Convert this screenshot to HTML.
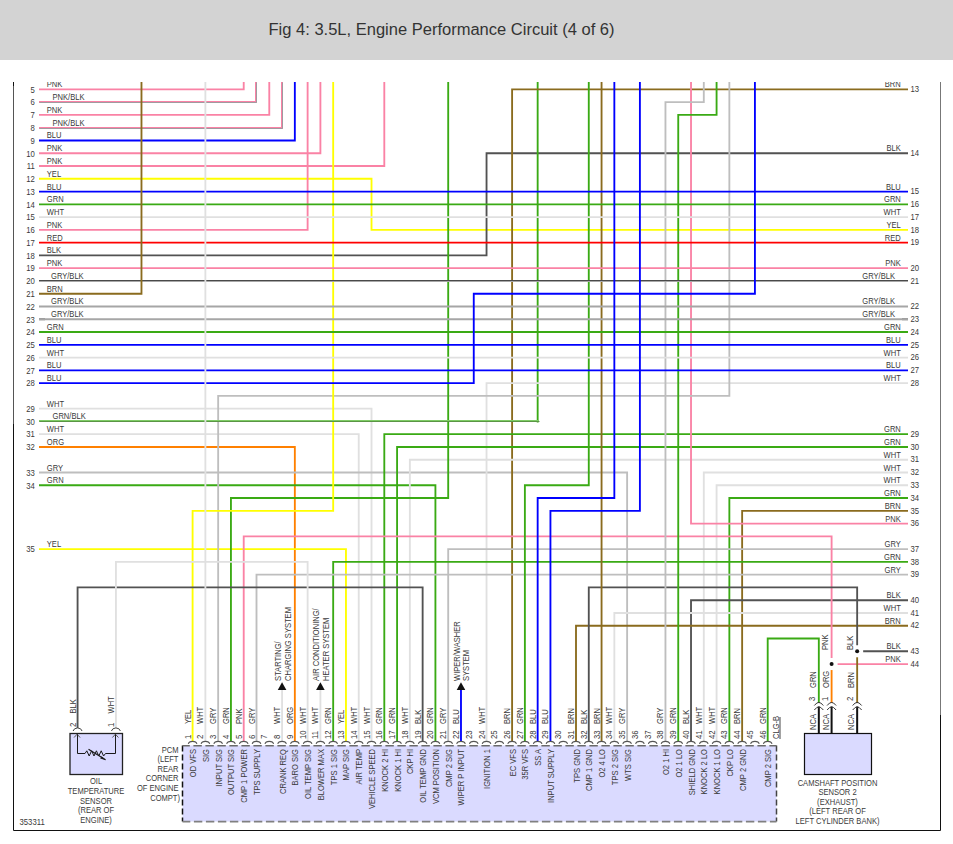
<!DOCTYPE html>
<html><head><meta charset="utf-8"><style>
html,body{margin:0;padding:0;background:#fff;width:953px;height:844px;overflow:hidden}
svg{position:absolute;left:0;top:0;font-family:"Liberation Sans",sans-serif}
</style></head><body>
<svg width="953" height="844" viewBox="0 0 953 844">
<defs><clipPath id="dclip"><rect x="0" y="82" width="953" height="762"/></clipPath></defs>
<rect x="0" y="0" width="953" height="60" fill="#d3d3d3"/>
<text x="268.5" y="35" font-size="16" fill="#333" textLength="346" lengthAdjust="spacingAndGlyphs">Fig 4: 3.5L, Engine Performance Circuit (4 of 6)</text>
<path d="M13.5 82 V86" stroke="#111" stroke-width="1"/><path d="M13.5 86 V424" stroke="#555" stroke-width="1"/><path d="M13.5 424 V830.5 H940.5 V715" stroke="#111" stroke-width="1" fill="none"/><path d="M940.5 715 V82" stroke="#777" stroke-width="1"/>
<g>
<path d="M39 89.4 L243.72 89.4 L243.72 82" stroke="#fa82a5" stroke-width="1.85" fill="none" stroke-linejoin="miter" />
<path d="M39 102 L256 102 L256 82" stroke="#fa82a5" stroke-width="2" fill="none" stroke-linejoin="miter" />
<path d="M39.5 102.5 L256.5 102.5 L256.5 82.5" stroke="#a09aa0" stroke-width="1" fill="none" stroke-linejoin="miter" />
<path d="M39 114.94 L269.28 114.94 L269.28 82" stroke="#fa82a5" stroke-width="1.85" fill="none" stroke-linejoin="miter" />
<path d="M39 128 L282 128 L282 82" stroke="#fa82a5" stroke-width="2" fill="none" stroke-linejoin="miter" />
<path d="M39.5 128.5 L282.5 128.5 L282.5 82.5" stroke="#a09aa0" stroke-width="1" fill="none" stroke-linejoin="miter" />
<path d="M39 140.48 L294.84 140.48 L294.84 82" stroke="#0000ff" stroke-width="1.85" fill="none" stroke-linejoin="miter" />
<path d="M39 153.25 L320.4 153.25 L320.4 82" stroke="#fa82a5" stroke-width="1.85" fill="none" stroke-linejoin="miter" />
<path d="M39 166.02 L384.3 166.02 L384.3 82" stroke="#fa82a5" stroke-width="1.85" fill="none" stroke-linejoin="miter" />
<path d="M39 178.79 L371.52 178.79 L371.52 229.87 L908 229.87" stroke="#ffff00" stroke-width="1.85" fill="none" stroke-linejoin="miter" />
<path d="M39 229.87 L307.62 229.87 L307.62 82" stroke="#fa82a5" stroke-width="1.85" fill="none" stroke-linejoin="miter" />
<path d="M39 255.41 L486.54 255.41 L486.54 153.25 L908 153.25" stroke="#525252" stroke-width="1.85" fill="none" stroke-linejoin="miter" />
<path d="M39 319.26 L45 319.26" stroke="#525252" stroke-width="1.85" fill="none" stroke-linejoin="miter" />
<path d="M902 319.26 L908 319.26" stroke="#525252" stroke-width="1.85" fill="none" stroke-linejoin="miter" />
<path d="M39 408.65 L371.52 408.65 L371.52 741" stroke="#e0e0e0" stroke-width="1.85" fill="none" stroke-linejoin="miter" />
<path d="M537.66 422.42 L537.66 82" stroke="#3aaa14" stroke-width="1.85" fill="none" stroke-linejoin="miter" />
<path d="M39 434.19 L358.74 434.19 L358.74 741" stroke="#e0e0e0" stroke-width="1.85" fill="none" stroke-linejoin="miter" />
<path d="M39 446.96 L294.84 446.96 L294.84 741" stroke="#ff8000" stroke-width="1.85" fill="none" stroke-linejoin="miter" />
<path d="M39 472.5 L627.12 472.5 L627.12 741" stroke="#bebebe" stroke-width="1.85" fill="none" stroke-linejoin="miter" />
<path d="M39 485.27 L435.42 485.27 L435.42 741" stroke="#3aaa14" stroke-width="1.85" fill="none" stroke-linejoin="miter" />
<path d="M39 549.12 L345.96 549.12 L345.96 741" stroke="#ffff00" stroke-width="1.85" fill="none" stroke-linejoin="miter" />
<path d="M908 89.4 L512.1 89.4 L512.1 741" stroke="#8a6b1e" stroke-width="1.85" fill="none" stroke-linejoin="miter" />
<path d="M908 383.11 L486.54 383.11 L486.54 741" stroke="#e0e0e0" stroke-width="1.85" fill="none" stroke-linejoin="miter" />
<path d="M908 434.19 L384.3 434.19 L384.3 741" stroke="#3aaa14" stroke-width="1.85" fill="none" stroke-linejoin="miter" />
<path d="M908 446.96 L397.08 446.96 L397.08 741" stroke="#3aaa14" stroke-width="1.85" fill="none" stroke-linejoin="miter" />
<path d="M908 459.73 L409.86 459.73 L409.86 741" stroke="#e0e0e0" stroke-width="1.85" fill="none" stroke-linejoin="miter" />
<path d="M908 472.5 L703.8 472.5 L703.8 741" stroke="#e0e0e0" stroke-width="1.85" fill="none" stroke-linejoin="miter" />
<path d="M908 485.27 L716.58 485.27 L716.58 741" stroke="#e0e0e0" stroke-width="1.85" fill="none" stroke-linejoin="miter" />
<path d="M908 498.04 L729.36 498.04 L729.36 741" stroke="#3aaa14" stroke-width="1.85" fill="none" stroke-linejoin="miter" />
<path d="M908 510.81 L742.14 510.81 L742.14 741" stroke="#8a6b1e" stroke-width="1.85" fill="none" stroke-linejoin="miter" />
<path d="M908 523.58 L691.02 523.58 L691.02 82" stroke="#fa82a5" stroke-width="1.85" fill="none" stroke-linejoin="miter" />
<path d="M908 549.12 L448.2 549.12 L448.2 741" stroke="#bebebe" stroke-width="1.85" fill="none" stroke-linejoin="miter" />
<path d="M908 561.89 L333.18 561.89 L333.18 741" stroke="#3aaa14" stroke-width="1.85" fill="none" stroke-linejoin="miter" />
<path d="M908 574.66 L256.5 574.66 L256.5 741" stroke="#bebebe" stroke-width="1.85" fill="none" stroke-linejoin="miter" />
<path d="M908 600.2 L691.02 600.2 L691.02 741" stroke="#525252" stroke-width="1.85" fill="none" stroke-linejoin="miter" />
<path d="M908 612.97 L614.34 612.97 L614.34 741" stroke="#e0e0e0" stroke-width="1.85" fill="none" stroke-linejoin="miter" />
<path d="M908 625.74 L576.0 625.74 L576.0 741" stroke="#8a6b1e" stroke-width="1.85" fill="none" stroke-linejoin="miter" />
<path d="M908 651.28 L863.16 651.28" stroke="#525252" stroke-width="1.85" fill="none" stroke-linejoin="miter" />
<path d="M908 664.05 L837.6 664.05" stroke="#fa82a5" stroke-width="1.85" fill="none" stroke-linejoin="miter" />
<path d="M729.36 82 L729.36 395.88 L218.16 395.88 L218.16 741" stroke="#bebebe" stroke-width="1.85" fill="none" stroke-linejoin="miter" />
<path d="M448.2 82 L448.2 498.04 L230.94 498.04 L230.94 741" stroke="#3aaa14" stroke-width="1.85" fill="none" stroke-linejoin="miter" />
<path d="M333.18 82 L333.18 510.81 L192.6 510.81 L192.6 741" stroke="#ffff00" stroke-width="1.85" fill="none" stroke-linejoin="miter" />
<path d="M243.72 741 L243.72 536.35 L831.6 536.35 L831.6 658.05" stroke="#fa82a5" stroke-width="1.85" fill="none" stroke-linejoin="miter" />
<path d="M831.6 670.05 L831.6 703" stroke="#ff8000" stroke-width="1.85" fill="none" stroke-linejoin="miter" />
<path d="M422.64 741 L422.64 587.43 L77.58 587.43 L77.58 728" stroke="#525252" stroke-width="1.85" fill="none" stroke-linejoin="miter" />
<path d="M588.78 741 L588.78 587.43 L857.16 587.43 L857.16 645.28" stroke="#525252" stroke-width="1.85" fill="none" stroke-linejoin="miter" />
<path d="M857.16 657.28 L857.16 703" stroke="#8a6b1e" stroke-width="1.85" fill="none" stroke-linejoin="miter" />
<path d="M115.92 728 L115.92 561.89 L307.62 561.89 L307.62 741" stroke="#e0e0e0" stroke-width="1.85" fill="none" stroke-linejoin="miter" />
<path d="M588.78 82 L588.78 485.27 L524.88 485.27 L524.88 741" stroke="#3aaa14" stroke-width="1.85" fill="none" stroke-linejoin="miter" />
<path d="M601.56 82 L601.56 741" stroke="#8a6b1e" stroke-width="1.85" fill="none" stroke-linejoin="miter" />
<path d="M703.8 82 L703.8 102.17 L665.46 102.17 L665.46 741" stroke="#bebebe" stroke-width="1.85" fill="none" stroke-linejoin="miter" />
<path d="M716.58 82 L716.58 114.94 L678.24 114.94 L678.24 741" stroke="#3aaa14" stroke-width="1.85" fill="none" stroke-linejoin="miter" />
<path d="M767.7 741 L767.7 638.51 L818.82 638.51 L818.82 703" stroke="#3aaa14" stroke-width="1.85" fill="none" stroke-linejoin="miter" />
<path d="M282.06 690 L282.06 741" stroke="#e0e0e0" stroke-width="1.85" fill="none" stroke-linejoin="miter" />
<path d="M320.4 690 L320.4 741" stroke="#e0e0e0" stroke-width="1.85" fill="none" stroke-linejoin="miter" />
<path d="M460.98 690 L460.98 741" stroke="#0000ff" stroke-width="1.85" fill="none" stroke-linejoin="miter" />
<path d="M39 191.56 L908 191.56" stroke="#0000ff" stroke-width="1.85" fill="none" stroke-linejoin="miter" />
<path d="M39 204.33 L908 204.33" stroke="#3aaa14" stroke-width="1.85" fill="none" stroke-linejoin="miter" />
<path d="M39 217.1 L908 217.1" stroke="#e0e0e0" stroke-width="1.85" fill="none" stroke-linejoin="miter" />
<path d="M39 242.64 L908 242.64" stroke="#ff0000" stroke-width="1.85" fill="none" stroke-linejoin="miter" />
<path d="M39 268.18 L908 268.18" stroke="#fa82a5" stroke-width="1.85" fill="none" stroke-linejoin="miter" />
<path d="M39 281 L908 281" stroke="#a8a8a8" stroke-width="2" fill="none" stroke-linejoin="miter" />
<path d="M39 280.5 L908 280.5" stroke="#4a4a4a" stroke-width="1" fill="none" stroke-linejoin="miter" />
<path d="M39 306.49 L908 306.49" stroke="#a6a6a6" stroke-width="1.85" fill="none" stroke-linejoin="miter" />
<path d="M39 319.26 L908 319.26" stroke="#a6a6a6" stroke-width="1.85" fill="none" stroke-linejoin="miter" />
<path d="M39 332.03 L908 332.03" stroke="#3aaa14" stroke-width="1.85" fill="none" stroke-linejoin="miter" />
<path d="M39 344.8 L908 344.8" stroke="#0000ff" stroke-width="1.85" fill="none" stroke-linejoin="miter" />
<path d="M39 357.57 L908 357.57" stroke="#e0e0e0" stroke-width="1.85" fill="none" stroke-linejoin="miter" />
<path d="M39 370.34 L908 370.34" stroke="#0000ff" stroke-width="1.85" fill="none" stroke-linejoin="miter" />
<path d="M39 421 L539 421" stroke="#7fcc66" stroke-width="2" fill="none" stroke-linejoin="miter" />
<path d="M39.5 421.5 L539.5 421.5" stroke="#5a9545" stroke-width="1" fill="none" stroke-linejoin="miter" />
<path d="M39 293.72 L141.48 293.72 L141.48 82" stroke="#8a6b1e" stroke-width="1.85" fill="none" stroke-linejoin="miter" />
<path d="M39 383.11 L473.76 383.11 L473.76 293.72 L754.92 293.72 L754.92 82" stroke="#0000ff" stroke-width="1.85" fill="none" stroke-linejoin="miter" />
<path d="M205.38 82 L205.38 741" stroke="#e0e0e0" stroke-width="1.85" fill="none" stroke-linejoin="miter" />
<path d="M614.34 82 L614.34 498.04 L537.66 498.04 L537.66 741" stroke="#0000ff" stroke-width="1.85" fill="none" stroke-linejoin="miter" />
<path d="M639.9 82 L639.9 510.81 L550.44 510.81 L550.44 741" stroke="#0000ff" stroke-width="1.85" fill="none" stroke-linejoin="miter" />
</g>
<!-- PCM box -->
<rect x="182.5" y="745.5" width="594" height="76" fill="#dadaff"/>
<path d="M182.5 745.5 V821.5" stroke="#111" stroke-width="1.5" stroke-dasharray="6 3"/>
<path d="M776.5 745.5 V821.5" stroke="#444" stroke-width="1.5" stroke-dasharray="6 3"/>
<path d="M182.5 745.7 H776.5" stroke="#6a6a6a" stroke-width="1.6" stroke-dasharray="8.4 3.6" stroke-dashoffset="1.1"/>
<path d="M182.5 821.7 H776.5" stroke="#808080" stroke-width="1.8" stroke-dasharray="8.4 3.6" stroke-dashoffset="0.6"/>
<path d="M188.29999999999998 743.8 C189.1 740.5 196.1 740.5 196.9 743.8" stroke="#555" stroke-width="1.1" fill="none"/>
<path d="M201.07999999999998 743.8 C201.88 740.5 208.88 740.5 209.68 743.8" stroke="#555" stroke-width="1.1" fill="none"/>
<path d="M213.85999999999999 743.8 C214.66 740.5 221.66 740.5 222.46 743.8" stroke="#555" stroke-width="1.1" fill="none"/>
<path d="M226.64 743.8 C227.44 740.5 234.44 740.5 235.24 743.8" stroke="#555" stroke-width="1.1" fill="none"/>
<path d="M239.42 743.8 C240.22 740.5 247.22 740.5 248.02 743.8" stroke="#555" stroke-width="1.1" fill="none"/>
<path d="M252.2 743.8 C253.0 740.5 260.0 740.5 260.8 743.8" stroke="#555" stroke-width="1.1" fill="none"/>
<path d="M264.97999999999996 743.8 C265.78 740.5 272.78 740.5 273.58 743.8" stroke="#555" stroke-width="1.1" fill="none"/>
<path d="M277.76 743.8 C278.56 740.5 285.56 740.5 286.36 743.8" stroke="#555" stroke-width="1.1" fill="none"/>
<path d="M290.53999999999996 743.8 C291.34 740.5 298.34 740.5 299.14 743.8" stroke="#555" stroke-width="1.1" fill="none"/>
<path d="M303.32 743.8 C304.12 740.5 311.12 740.5 311.92 743.8" stroke="#555" stroke-width="1.1" fill="none"/>
<path d="M316.09999999999997 743.8 C316.9 740.5 323.9 740.5 324.7 743.8" stroke="#555" stroke-width="1.1" fill="none"/>
<path d="M328.88 743.8 C329.68 740.5 336.68 740.5 337.48 743.8" stroke="#555" stroke-width="1.1" fill="none"/>
<path d="M341.65999999999997 743.8 C342.46 740.5 349.46 740.5 350.26 743.8" stroke="#555" stroke-width="1.1" fill="none"/>
<path d="M354.44 743.8 C355.24 740.5 362.24 740.5 363.04 743.8" stroke="#555" stroke-width="1.1" fill="none"/>
<path d="M367.21999999999997 743.8 C368.02 740.5 375.02 740.5 375.82 743.8" stroke="#555" stroke-width="1.1" fill="none"/>
<path d="M380.0 743.8 C380.8 740.5 387.8 740.5 388.6 743.8" stroke="#555" stroke-width="1.1" fill="none"/>
<path d="M392.78 743.8 C393.58 740.5 400.58 740.5 401.38 743.8" stroke="#555" stroke-width="1.1" fill="none"/>
<path d="M405.56 743.8 C406.36 740.5 413.36 740.5 414.16 743.8" stroke="#555" stroke-width="1.1" fill="none"/>
<path d="M418.34 743.8 C419.14 740.5 426.14 740.5 426.94 743.8" stroke="#555" stroke-width="1.1" fill="none"/>
<path d="M431.12 743.8 C431.92 740.5 438.92 740.5 439.72 743.8" stroke="#555" stroke-width="1.1" fill="none"/>
<path d="M443.9 743.8 C444.7 740.5 451.7 740.5 452.5 743.8" stroke="#555" stroke-width="1.1" fill="none"/>
<path d="M456.68 743.8 C457.48 740.5 464.48 740.5 465.28000000000003 743.8" stroke="#555" stroke-width="1.1" fill="none"/>
<path d="M469.46 743.8 C470.26 740.5 477.26 740.5 478.06 743.8" stroke="#555" stroke-width="1.1" fill="none"/>
<path d="M482.24 743.8 C483.04 740.5 490.04 740.5 490.84000000000003 743.8" stroke="#555" stroke-width="1.1" fill="none"/>
<path d="M495.02 743.8 C495.82 740.5 502.82 740.5 503.62 743.8" stroke="#555" stroke-width="1.1" fill="none"/>
<path d="M507.8 743.8 C508.6 740.5 515.6 740.5 516.4 743.8" stroke="#555" stroke-width="1.1" fill="none"/>
<path d="M520.58 743.8 C521.38 740.5 528.38 740.5 529.18 743.8" stroke="#555" stroke-width="1.1" fill="none"/>
<path d="M533.36 743.8 C534.16 740.5 541.16 740.5 541.9599999999999 743.8" stroke="#555" stroke-width="1.1" fill="none"/>
<path d="M546.1400000000001 743.8 C546.94 740.5 553.94 740.5 554.74 743.8" stroke="#555" stroke-width="1.1" fill="none"/>
<path d="M558.9200000000001 743.8 C559.72 740.5 566.72 740.5 567.52 743.8" stroke="#555" stroke-width="1.1" fill="none"/>
<path d="M571.7 743.8 C572.5 740.5 579.5 740.5 580.3 743.8" stroke="#555" stroke-width="1.1" fill="none"/>
<path d="M584.48 743.8 C585.28 740.5 592.28 740.5 593.0799999999999 743.8" stroke="#555" stroke-width="1.1" fill="none"/>
<path d="M597.26 743.8 C598.06 740.5 605.06 740.5 605.8599999999999 743.8" stroke="#555" stroke-width="1.1" fill="none"/>
<path d="M610.0400000000001 743.8 C610.84 740.5 617.84 740.5 618.64 743.8" stroke="#555" stroke-width="1.1" fill="none"/>
<path d="M622.82 743.8 C623.62 740.5 630.62 740.5 631.42 743.8" stroke="#555" stroke-width="1.1" fill="none"/>
<path d="M635.6 743.8 C636.4 740.5 643.4 740.5 644.1999999999999 743.8" stroke="#555" stroke-width="1.1" fill="none"/>
<path d="M648.38 743.8 C649.18 740.5 656.18 740.5 656.9799999999999 743.8" stroke="#555" stroke-width="1.1" fill="none"/>
<path d="M661.1600000000001 743.8 C661.96 740.5 668.96 740.5 669.76 743.8" stroke="#555" stroke-width="1.1" fill="none"/>
<path d="M673.94 743.8 C674.74 740.5 681.74 740.5 682.54 743.8" stroke="#555" stroke-width="1.1" fill="none"/>
<path d="M686.72 743.8 C687.52 740.5 694.52 740.5 695.3199999999999 743.8" stroke="#555" stroke-width="1.1" fill="none"/>
<path d="M699.5 743.8 C700.3 740.5 707.3 740.5 708.0999999999999 743.8" stroke="#555" stroke-width="1.1" fill="none"/>
<path d="M712.2800000000001 743.8 C713.08 740.5 720.08 740.5 720.88 743.8" stroke="#555" stroke-width="1.1" fill="none"/>
<path d="M725.0600000000001 743.8 C725.86 740.5 732.86 740.5 733.66 743.8" stroke="#555" stroke-width="1.1" fill="none"/>
<path d="M737.84 743.8 C738.64 740.5 745.64 740.5 746.4399999999999 743.8" stroke="#555" stroke-width="1.1" fill="none"/>
<path d="M750.62 743.8 C751.42 740.5 758.42 740.5 759.2199999999999 743.8" stroke="#555" stroke-width="1.1" fill="none"/>
<path d="M763.4000000000001 743.8 C764.2 740.5 771.2 740.5 772.0 743.8" stroke="#555" stroke-width="1.1" fill="none"/>
<path d="M277.76 690 L282.06 682.3 L286.36 690 Z" fill="#111"/>
<path d="M316.09999999999997 690 L320.4 682.3 L324.7 690 Z" fill="#111"/>
<path d="M456.68 690 L460.98 682.3 L465.28000000000003 690 Z" fill="#111"/>
<path d="M780 739 V717" stroke="#333" stroke-width="0.9"/>
<rect x="70" y="733.5" width="52.5" height="41" fill="#dadaff" stroke="#222" stroke-width="1.3"/>
<path d="M77.5 734 V753.5 H85 L86.8 750.8 L89.2 756 L91.6 750.8 L94 756 L96.4 750.8 L98.8 756 L101.2 750.8 L103.6 756 L105.5 753.5 H115.5 V734" stroke="#1a1a1a" stroke-width="1" fill="none"/>
<path d="M88.5 749.2 L105.5 759.8" stroke="#1a1a1a" stroke-width="1.2"/><path d="M101.5 756.2 L106 760.2 L100.2 758.6 Z" fill="#1a1a1a"/>
<path d="M74.08 737.5 L77.08 734.2 L80.08 737.5" stroke="#444" stroke-width="0.9" fill="none"/>
<path d="M73.08 731 L74.58 728.8 Q77.58 727 80.58 728.8 L82.08 731" stroke="#444" stroke-width="1" fill="none"/>
<path d="M112.42 737.5 L115.42 734.2 L118.42 737.5" stroke="#444" stroke-width="0.9" fill="none"/>
<path d="M111.42 731 L112.92 728.8 Q115.92 727 118.92 728.8 L120.42 731" stroke="#444" stroke-width="1" fill="none"/>
<rect x="804.5" y="733.5" width="67" height="41" fill="#dadaff" stroke="#111" stroke-width="1.2"/>
<path d="M818.82 706.5 V733.5" stroke="#111" stroke-width="2"/>
<path d="M814.32 705.5 L816.82 703 Q818.82 702 820.82 703 L823.32 705.5" stroke="#333" stroke-width="1" fill="none"/>
<path d="M814.32 710 L816.82 707.5 Q818.82 706.5 820.82 707.5 L823.32 710" stroke="#333" stroke-width="1" fill="none"/>
<path d="M831.6 706.5 V733.5" stroke="#111" stroke-width="2"/>
<path d="M827.1 705.5 L829.6 703 Q831.6 702 833.6 703 L836.1 705.5" stroke="#333" stroke-width="1" fill="none"/>
<path d="M827.1 710 L829.6 707.5 Q831.6 706.5 833.6 707.5 L836.1 710" stroke="#333" stroke-width="1" fill="none"/>
<path d="M857.16 706.5 V733.5" stroke="#111" stroke-width="2"/>
<path d="M852.66 705.5 L855.16 703 Q857.16 702 859.16 703 L861.66 705.5" stroke="#333" stroke-width="1" fill="none"/>
<path d="M852.66 710 L855.16 707.5 Q857.16 706.5 859.16 707.5 L861.66 710" stroke="#333" stroke-width="1" fill="none"/>
<circle cx="831.6" cy="664.05" r="2" fill="#111"/>
<circle cx="857.16" cy="651.28" r="2" fill="#111"/>
<g clip-path="url(#dclip)">
<text transform="translate(34.8,92.7) scale(0.92,1)" font-size="8.4" text-anchor="end" fill="#3a3a3a" >5</text>
<text transform="translate(46.8,87.4) scale(0.925,1)" font-size="8.2" text-anchor="start" fill="#3a3a3a" >PNK</text>
<text transform="translate(34.8,105.47) scale(0.92,1)" font-size="8.4" text-anchor="end" fill="#3a3a3a" >6</text>
<text transform="translate(52.5,100.17) scale(0.925,1)" font-size="8.2" text-anchor="start" fill="#3a3a3a" >PNK/BLK</text>
<text transform="translate(34.8,118.24) scale(0.92,1)" font-size="8.4" text-anchor="end" fill="#3a3a3a" >7</text>
<text transform="translate(46.8,112.94) scale(0.925,1)" font-size="8.2" text-anchor="start" fill="#3a3a3a" >PNK</text>
<text transform="translate(34.8,131.01) scale(0.92,1)" font-size="8.4" text-anchor="end" fill="#3a3a3a" >8</text>
<text transform="translate(52.5,125.71) scale(0.925,1)" font-size="8.2" text-anchor="start" fill="#3a3a3a" >PNK/BLK</text>
<text transform="translate(34.8,143.78) scale(0.92,1)" font-size="8.4" text-anchor="end" fill="#3a3a3a" >9</text>
<text transform="translate(46.8,138.48) scale(0.925,1)" font-size="8.2" text-anchor="start" fill="#3a3a3a" >BLU</text>
<text transform="translate(34.8,156.55) scale(0.92,1)" font-size="8.4" text-anchor="end" fill="#3a3a3a" >10</text>
<text transform="translate(46.8,151.25) scale(0.925,1)" font-size="8.2" text-anchor="start" fill="#3a3a3a" >PNK</text>
<text transform="translate(34.8,169.32000000000002) scale(0.92,1)" font-size="8.4" text-anchor="end" fill="#3a3a3a" >11</text>
<text transform="translate(46.8,164.02) scale(0.925,1)" font-size="8.2" text-anchor="start" fill="#3a3a3a" >PNK</text>
<text transform="translate(34.8,182.09) scale(0.92,1)" font-size="8.4" text-anchor="end" fill="#3a3a3a" >12</text>
<text transform="translate(46.8,176.79) scale(0.925,1)" font-size="8.2" text-anchor="start" fill="#3a3a3a" >YEL</text>
<text transform="translate(34.8,194.86) scale(0.92,1)" font-size="8.4" text-anchor="end" fill="#3a3a3a" >13</text>
<text transform="translate(46.8,189.56) scale(0.925,1)" font-size="8.2" text-anchor="start" fill="#3a3a3a" >BLU</text>
<text transform="translate(34.8,207.63000000000002) scale(0.92,1)" font-size="8.4" text-anchor="end" fill="#3a3a3a" >14</text>
<text transform="translate(46.8,202.33) scale(0.925,1)" font-size="8.2" text-anchor="start" fill="#3a3a3a" >GRN</text>
<text transform="translate(34.8,220.4) scale(0.92,1)" font-size="8.4" text-anchor="end" fill="#3a3a3a" >15</text>
<text transform="translate(46.8,215.1) scale(0.925,1)" font-size="8.2" text-anchor="start" fill="#3a3a3a" >WHT</text>
<text transform="translate(34.8,233.17000000000002) scale(0.92,1)" font-size="8.4" text-anchor="end" fill="#3a3a3a" >16</text>
<text transform="translate(46.8,227.87) scale(0.925,1)" font-size="8.2" text-anchor="start" fill="#3a3a3a" >PNK</text>
<text transform="translate(34.8,245.94) scale(0.92,1)" font-size="8.4" text-anchor="end" fill="#3a3a3a" >17</text>
<text transform="translate(46.8,240.64) scale(0.925,1)" font-size="8.2" text-anchor="start" fill="#3a3a3a" >RED</text>
<text transform="translate(34.8,258.71) scale(0.92,1)" font-size="8.4" text-anchor="end" fill="#3a3a3a" >18</text>
<text transform="translate(46.8,253.41) scale(0.925,1)" font-size="8.2" text-anchor="start" fill="#3a3a3a" >BLK</text>
<text transform="translate(34.8,271.48) scale(0.92,1)" font-size="8.4" text-anchor="end" fill="#3a3a3a" >19</text>
<text transform="translate(46.8,266.18) scale(0.925,1)" font-size="8.2" text-anchor="start" fill="#3a3a3a" >PNK</text>
<text transform="translate(34.8,284.25) scale(0.92,1)" font-size="8.4" text-anchor="end" fill="#3a3a3a" >20</text>
<text transform="translate(51,278.95) scale(0.925,1)" font-size="8.2" text-anchor="start" fill="#3a3a3a" >GRY/BLK</text>
<text transform="translate(34.8,297.02000000000004) scale(0.92,1)" font-size="8.4" text-anchor="end" fill="#3a3a3a" >21</text>
<text transform="translate(46.8,291.72) scale(0.925,1)" font-size="8.2" text-anchor="start" fill="#3a3a3a" >BRN</text>
<text transform="translate(34.8,309.79) scale(0.92,1)" font-size="8.4" text-anchor="end" fill="#3a3a3a" >22</text>
<text transform="translate(51,304.49) scale(0.925,1)" font-size="8.2" text-anchor="start" fill="#3a3a3a" >GRY/BLK</text>
<text transform="translate(34.8,322.56) scale(0.92,1)" font-size="8.4" text-anchor="end" fill="#3a3a3a" >23</text>
<text transform="translate(51,317.26) scale(0.925,1)" font-size="8.2" text-anchor="start" fill="#3a3a3a" >GRY/BLK</text>
<text transform="translate(34.8,335.33) scale(0.92,1)" font-size="8.4" text-anchor="end" fill="#3a3a3a" >24</text>
<text transform="translate(46.8,330.03) scale(0.925,1)" font-size="8.2" text-anchor="start" fill="#3a3a3a" >GRN</text>
<text transform="translate(34.8,348.1) scale(0.92,1)" font-size="8.4" text-anchor="end" fill="#3a3a3a" >25</text>
<text transform="translate(46.8,342.8) scale(0.925,1)" font-size="8.2" text-anchor="start" fill="#3a3a3a" >BLU</text>
<text transform="translate(34.8,360.87) scale(0.92,1)" font-size="8.4" text-anchor="end" fill="#3a3a3a" >26</text>
<text transform="translate(46.8,355.57) scale(0.925,1)" font-size="8.2" text-anchor="start" fill="#3a3a3a" >WHT</text>
<text transform="translate(34.8,373.64) scale(0.92,1)" font-size="8.4" text-anchor="end" fill="#3a3a3a" >27</text>
<text transform="translate(46.8,368.34) scale(0.925,1)" font-size="8.2" text-anchor="start" fill="#3a3a3a" >BLU</text>
<text transform="translate(34.8,386.41) scale(0.92,1)" font-size="8.4" text-anchor="end" fill="#3a3a3a" >28</text>
<text transform="translate(46.8,381.11) scale(0.925,1)" font-size="8.2" text-anchor="start" fill="#3a3a3a" >BLU</text>
<text transform="translate(34.8,411.95) scale(0.92,1)" font-size="8.4" text-anchor="end" fill="#3a3a3a" >29</text>
<text transform="translate(46.8,406.65) scale(0.925,1)" font-size="8.2" text-anchor="start" fill="#3a3a3a" >WHT</text>
<text transform="translate(34.8,424.72) scale(0.92,1)" font-size="8.4" text-anchor="end" fill="#3a3a3a" >30</text>
<text transform="translate(52.5,419.42) scale(0.925,1)" font-size="8.2" text-anchor="start" fill="#3a3a3a" >GRN/BLK</text>
<text transform="translate(34.8,437.49) scale(0.92,1)" font-size="8.4" text-anchor="end" fill="#3a3a3a" >31</text>
<text transform="translate(46.8,432.19) scale(0.925,1)" font-size="8.2" text-anchor="start" fill="#3a3a3a" >WHT</text>
<text transform="translate(34.8,450.26) scale(0.92,1)" font-size="8.4" text-anchor="end" fill="#3a3a3a" >32</text>
<text transform="translate(46.8,444.96) scale(0.925,1)" font-size="8.2" text-anchor="start" fill="#3a3a3a" >ORG</text>
<text transform="translate(34.8,475.8) scale(0.92,1)" font-size="8.4" text-anchor="end" fill="#3a3a3a" >33</text>
<text transform="translate(46.8,470.5) scale(0.925,1)" font-size="8.2" text-anchor="start" fill="#3a3a3a" >GRY</text>
<text transform="translate(34.8,488.57) scale(0.92,1)" font-size="8.4" text-anchor="end" fill="#3a3a3a" >34</text>
<text transform="translate(46.8,483.27) scale(0.925,1)" font-size="8.2" text-anchor="start" fill="#3a3a3a" >GRN</text>
<text transform="translate(34.8,552.42) scale(0.92,1)" font-size="8.4" text-anchor="end" fill="#3a3a3a" >35</text>
<text transform="translate(46.8,547.12) scale(0.925,1)" font-size="8.2" text-anchor="start" fill="#3a3a3a" >YEL</text>
<text transform="translate(910.5,92.10000000000001) scale(0.92,1)" font-size="8.4" text-anchor="start" fill="#3a3a3a" >13</text>
<text transform="translate(900.8,87.4) scale(0.925,1)" font-size="8.2" text-anchor="end" fill="#3a3a3a" >BRN</text>
<text transform="translate(910.5,155.95) scale(0.92,1)" font-size="8.4" text-anchor="start" fill="#3a3a3a" >14</text>
<text transform="translate(900.8,151.25) scale(0.925,1)" font-size="8.2" text-anchor="end" fill="#3a3a3a" >BLK</text>
<text transform="translate(910.5,194.26) scale(0.92,1)" font-size="8.4" text-anchor="start" fill="#3a3a3a" >15</text>
<text transform="translate(900.8,189.56) scale(0.925,1)" font-size="8.2" text-anchor="end" fill="#3a3a3a" >BLU</text>
<text transform="translate(910.5,207.03) scale(0.92,1)" font-size="8.4" text-anchor="start" fill="#3a3a3a" >16</text>
<text transform="translate(900.8,202.33) scale(0.925,1)" font-size="8.2" text-anchor="end" fill="#3a3a3a" >GRN</text>
<text transform="translate(910.5,219.79999999999998) scale(0.92,1)" font-size="8.4" text-anchor="start" fill="#3a3a3a" >17</text>
<text transform="translate(900.8,215.1) scale(0.925,1)" font-size="8.2" text-anchor="end" fill="#3a3a3a" >WHT</text>
<text transform="translate(910.5,232.57) scale(0.92,1)" font-size="8.4" text-anchor="start" fill="#3a3a3a" >18</text>
<text transform="translate(900.8,227.87) scale(0.925,1)" font-size="8.2" text-anchor="end" fill="#3a3a3a" >YEL</text>
<text transform="translate(910.5,245.33999999999997) scale(0.92,1)" font-size="8.4" text-anchor="start" fill="#3a3a3a" >19</text>
<text transform="translate(900.8,240.64) scale(0.925,1)" font-size="8.2" text-anchor="end" fill="#3a3a3a" >RED</text>
<text transform="translate(910.5,270.88) scale(0.92,1)" font-size="8.4" text-anchor="start" fill="#3a3a3a" >20</text>
<text transform="translate(900.8,266.18) scale(0.925,1)" font-size="8.2" text-anchor="end" fill="#3a3a3a" >PNK</text>
<text transform="translate(910.5,283.65) scale(0.92,1)" font-size="8.4" text-anchor="start" fill="#3a3a3a" >21</text>
<text transform="translate(895,278.95) scale(0.925,1)" font-size="8.2" text-anchor="end" fill="#3a3a3a" >GRY/BLK</text>
<text transform="translate(910.5,309.19) scale(0.92,1)" font-size="8.4" text-anchor="start" fill="#3a3a3a" >22</text>
<text transform="translate(895,304.49) scale(0.925,1)" font-size="8.2" text-anchor="end" fill="#3a3a3a" >GRY/BLK</text>
<text transform="translate(910.5,321.96) scale(0.92,1)" font-size="8.4" text-anchor="start" fill="#3a3a3a" >23</text>
<text transform="translate(895,317.26) scale(0.925,1)" font-size="8.2" text-anchor="end" fill="#3a3a3a" >GRY/BLK</text>
<text transform="translate(910.5,334.72999999999996) scale(0.92,1)" font-size="8.4" text-anchor="start" fill="#3a3a3a" >24</text>
<text transform="translate(900.8,330.03) scale(0.925,1)" font-size="8.2" text-anchor="end" fill="#3a3a3a" >GRN</text>
<text transform="translate(910.5,347.5) scale(0.92,1)" font-size="8.4" text-anchor="start" fill="#3a3a3a" >25</text>
<text transform="translate(900.8,342.8) scale(0.925,1)" font-size="8.2" text-anchor="end" fill="#3a3a3a" >BLU</text>
<text transform="translate(910.5,360.27) scale(0.92,1)" font-size="8.4" text-anchor="start" fill="#3a3a3a" >26</text>
<text transform="translate(900.8,355.57) scale(0.925,1)" font-size="8.2" text-anchor="end" fill="#3a3a3a" >WHT</text>
<text transform="translate(910.5,373.03999999999996) scale(0.92,1)" font-size="8.4" text-anchor="start" fill="#3a3a3a" >27</text>
<text transform="translate(900.8,368.34) scale(0.925,1)" font-size="8.2" text-anchor="end" fill="#3a3a3a" >BLU</text>
<text transform="translate(910.5,385.81) scale(0.92,1)" font-size="8.4" text-anchor="start" fill="#3a3a3a" >28</text>
<text transform="translate(900.8,381.11) scale(0.925,1)" font-size="8.2" text-anchor="end" fill="#3a3a3a" >WHT</text>
<text transform="translate(910.5,436.89) scale(0.92,1)" font-size="8.4" text-anchor="start" fill="#3a3a3a" >29</text>
<text transform="translate(900.8,432.19) scale(0.925,1)" font-size="8.2" text-anchor="end" fill="#3a3a3a" >GRN</text>
<text transform="translate(910.5,449.65999999999997) scale(0.92,1)" font-size="8.4" text-anchor="start" fill="#3a3a3a" >30</text>
<text transform="translate(900.8,444.96) scale(0.925,1)" font-size="8.2" text-anchor="end" fill="#3a3a3a" >GRN</text>
<text transform="translate(910.5,462.43) scale(0.92,1)" font-size="8.4" text-anchor="start" fill="#3a3a3a" >31</text>
<text transform="translate(900.8,457.73) scale(0.925,1)" font-size="8.2" text-anchor="end" fill="#3a3a3a" >WHT</text>
<text transform="translate(910.5,475.2) scale(0.92,1)" font-size="8.4" text-anchor="start" fill="#3a3a3a" >32</text>
<text transform="translate(900.8,470.5) scale(0.925,1)" font-size="8.2" text-anchor="end" fill="#3a3a3a" >WHT</text>
<text transform="translate(910.5,487.96999999999997) scale(0.92,1)" font-size="8.4" text-anchor="start" fill="#3a3a3a" >33</text>
<text transform="translate(900.8,483.27) scale(0.925,1)" font-size="8.2" text-anchor="end" fill="#3a3a3a" >WHT</text>
<text transform="translate(910.5,500.74) scale(0.92,1)" font-size="8.4" text-anchor="start" fill="#3a3a3a" >34</text>
<text transform="translate(900.8,496.04) scale(0.925,1)" font-size="8.2" text-anchor="end" fill="#3a3a3a" >GRN</text>
<text transform="translate(910.5,513.51) scale(0.92,1)" font-size="8.4" text-anchor="start" fill="#3a3a3a" >35</text>
<text transform="translate(900.8,508.81) scale(0.925,1)" font-size="8.2" text-anchor="end" fill="#3a3a3a" >BRN</text>
<text transform="translate(910.5,526.2800000000001) scale(0.92,1)" font-size="8.4" text-anchor="start" fill="#3a3a3a" >36</text>
<text transform="translate(900.8,521.58) scale(0.925,1)" font-size="8.2" text-anchor="end" fill="#3a3a3a" >PNK</text>
<text transform="translate(910.5,551.82) scale(0.92,1)" font-size="8.4" text-anchor="start" fill="#3a3a3a" >37</text>
<text transform="translate(900.8,547.12) scale(0.925,1)" font-size="8.2" text-anchor="end" fill="#3a3a3a" >GRY</text>
<text transform="translate(910.5,564.59) scale(0.92,1)" font-size="8.4" text-anchor="start" fill="#3a3a3a" >38</text>
<text transform="translate(900.8,559.89) scale(0.925,1)" font-size="8.2" text-anchor="end" fill="#3a3a3a" >GRN</text>
<text transform="translate(910.5,577.36) scale(0.92,1)" font-size="8.4" text-anchor="start" fill="#3a3a3a" >39</text>
<text transform="translate(900.8,572.66) scale(0.925,1)" font-size="8.2" text-anchor="end" fill="#3a3a3a" >GRY</text>
<text transform="translate(910.5,602.9000000000001) scale(0.92,1)" font-size="8.4" text-anchor="start" fill="#3a3a3a" >40</text>
<text transform="translate(900.8,598.2) scale(0.925,1)" font-size="8.2" text-anchor="end" fill="#3a3a3a" >BLK</text>
<text transform="translate(910.5,615.6700000000001) scale(0.92,1)" font-size="8.4" text-anchor="start" fill="#3a3a3a" >41</text>
<text transform="translate(900.8,610.97) scale(0.925,1)" font-size="8.2" text-anchor="end" fill="#3a3a3a" >WHT</text>
<text transform="translate(910.5,628.44) scale(0.92,1)" font-size="8.4" text-anchor="start" fill="#3a3a3a" >42</text>
<text transform="translate(900.8,623.74) scale(0.925,1)" font-size="8.2" text-anchor="end" fill="#3a3a3a" >BRN</text>
<text transform="translate(910.5,653.98) scale(0.92,1)" font-size="8.4" text-anchor="start" fill="#3a3a3a" >43</text>
<text transform="translate(900.8,649.28) scale(0.925,1)" font-size="8.2" text-anchor="end" fill="#3a3a3a" >BLK</text>
<text transform="translate(910.5,666.75) scale(0.92,1)" font-size="8.4" text-anchor="start" fill="#3a3a3a" >44</text>
<text transform="translate(900.8,662.05) scale(0.925,1)" font-size="8.2" text-anchor="end" fill="#3a3a3a" >PNK</text>
<text transform="translate(190.6,739) rotate(-90) scale(0.92,1)" font-size="8.4" text-anchor="start" fill="#3a3a3a" >1</text>
<text transform="translate(190.6,724) rotate(-90) scale(0.925,1)" font-size="8.2" text-anchor="start" fill="#3a3a3a" >YEL</text>
<text transform="translate(196.1,749) rotate(-90) scale(0.925,1)" font-size="8.2" text-anchor="end" fill="#3a3a3a" >OD VFS</text>
<text transform="translate(203.38,739) rotate(-90) scale(0.92,1)" font-size="8.4" text-anchor="start" fill="#3a3a3a" >2</text>
<text transform="translate(203.38,724) rotate(-90) scale(0.925,1)" font-size="8.2" text-anchor="start" fill="#3a3a3a" >WHT</text>
<text transform="translate(208.88,749) rotate(-90) scale(0.925,1)" font-size="8.2" text-anchor="end" fill="#3a3a3a" >SIG</text>
<text transform="translate(216.16,739) rotate(-90) scale(0.92,1)" font-size="8.4" text-anchor="start" fill="#3a3a3a" >3</text>
<text transform="translate(216.16,724) rotate(-90) scale(0.925,1)" font-size="8.2" text-anchor="start" fill="#3a3a3a" >GRY</text>
<text transform="translate(221.66,749) rotate(-90) scale(0.925,1)" font-size="8.2" text-anchor="end" fill="#3a3a3a" >INPUT SIG</text>
<text transform="translate(228.94,739) rotate(-90) scale(0.92,1)" font-size="8.4" text-anchor="start" fill="#3a3a3a" >4</text>
<text transform="translate(228.94,724) rotate(-90) scale(0.925,1)" font-size="8.2" text-anchor="start" fill="#3a3a3a" >GRN</text>
<text transform="translate(234.44,749) rotate(-90) scale(0.925,1)" font-size="8.2" text-anchor="end" fill="#3a3a3a" >OUTPUT SIG</text>
<text transform="translate(241.72,739) rotate(-90) scale(0.92,1)" font-size="8.4" text-anchor="start" fill="#3a3a3a" >5</text>
<text transform="translate(241.72,724) rotate(-90) scale(0.925,1)" font-size="8.2" text-anchor="start" fill="#3a3a3a" >PNK</text>
<text transform="translate(247.22,749) rotate(-90) scale(0.925,1)" font-size="8.2" text-anchor="end" fill="#3a3a3a" >CMP 1 POWER</text>
<text transform="translate(254.5,739) rotate(-90) scale(0.92,1)" font-size="8.4" text-anchor="start" fill="#3a3a3a" >6</text>
<text transform="translate(254.5,724) rotate(-90) scale(0.925,1)" font-size="8.2" text-anchor="start" fill="#3a3a3a" >GRY</text>
<text transform="translate(260.0,749) rotate(-90) scale(0.925,1)" font-size="8.2" text-anchor="end" fill="#3a3a3a" >TPS SUPPLY</text>
<text transform="translate(267.28,739) rotate(-90) scale(0.92,1)" font-size="8.4" text-anchor="start" fill="#3a3a3a" >7</text>
<text transform="translate(280.06,739) rotate(-90) scale(0.92,1)" font-size="8.4" text-anchor="start" fill="#3a3a3a" >8</text>
<text transform="translate(280.06,724) rotate(-90) scale(0.925,1)" font-size="8.2" text-anchor="start" fill="#3a3a3a" >WHT</text>
<text transform="translate(285.56,749) rotate(-90) scale(0.925,1)" font-size="8.2" text-anchor="end" fill="#3a3a3a" >CRANK REQ</text>
<text transform="translate(292.84,739) rotate(-90) scale(0.92,1)" font-size="8.4" text-anchor="start" fill="#3a3a3a" >9</text>
<text transform="translate(292.84,724) rotate(-90) scale(0.925,1)" font-size="8.2" text-anchor="start" fill="#3a3a3a" >ORG</text>
<text transform="translate(298.34,749) rotate(-90) scale(0.925,1)" font-size="8.2" text-anchor="end" fill="#3a3a3a" >BARO SIG</text>
<text transform="translate(305.62,739) rotate(-90) scale(0.92,1)" font-size="8.4" text-anchor="start" fill="#3a3a3a" >10</text>
<text transform="translate(305.62,724) rotate(-90) scale(0.925,1)" font-size="8.2" text-anchor="start" fill="#3a3a3a" >WHT</text>
<text transform="translate(311.12,749) rotate(-90) scale(0.925,1)" font-size="8.2" text-anchor="end" fill="#3a3a3a" >OIL TEMP SIG</text>
<text transform="translate(318.4,739) rotate(-90) scale(0.92,1)" font-size="8.4" text-anchor="start" fill="#3a3a3a" >11</text>
<text transform="translate(318.4,724) rotate(-90) scale(0.925,1)" font-size="8.2" text-anchor="start" fill="#3a3a3a" >WHT</text>
<text transform="translate(323.9,749) rotate(-90) scale(0.925,1)" font-size="8.2" text-anchor="end" fill="#3a3a3a" >BLOWER MAX</text>
<text transform="translate(331.18,739) rotate(-90) scale(0.92,1)" font-size="8.4" text-anchor="start" fill="#3a3a3a" >12</text>
<text transform="translate(331.18,724) rotate(-90) scale(0.925,1)" font-size="8.2" text-anchor="start" fill="#3a3a3a" >GRN</text>
<text transform="translate(336.68,749) rotate(-90) scale(0.925,1)" font-size="8.2" text-anchor="end" fill="#3a3a3a" >TPS 1 SIG</text>
<text transform="translate(343.96,739) rotate(-90) scale(0.92,1)" font-size="8.4" text-anchor="start" fill="#3a3a3a" >13</text>
<text transform="translate(343.96,724) rotate(-90) scale(0.925,1)" font-size="8.2" text-anchor="start" fill="#3a3a3a" >YEL</text>
<text transform="translate(349.46,749) rotate(-90) scale(0.925,1)" font-size="8.2" text-anchor="end" fill="#3a3a3a" >MAP SIG</text>
<text transform="translate(356.74,739) rotate(-90) scale(0.92,1)" font-size="8.4" text-anchor="start" fill="#3a3a3a" >14</text>
<text transform="translate(356.74,724) rotate(-90) scale(0.925,1)" font-size="8.2" text-anchor="start" fill="#3a3a3a" >WHT</text>
<text transform="translate(362.24,749) rotate(-90) scale(0.925,1)" font-size="8.2" text-anchor="end" fill="#3a3a3a" >AIR TEMP</text>
<text transform="translate(369.52,739) rotate(-90) scale(0.92,1)" font-size="8.4" text-anchor="start" fill="#3a3a3a" >15</text>
<text transform="translate(369.52,724) rotate(-90) scale(0.925,1)" font-size="8.2" text-anchor="start" fill="#3a3a3a" >WHT</text>
<text transform="translate(375.02,749) rotate(-90) scale(0.925,1)" font-size="8.2" text-anchor="end" fill="#3a3a3a" >VEHICLE SPEED</text>
<text transform="translate(382.3,739) rotate(-90) scale(0.92,1)" font-size="8.4" text-anchor="start" fill="#3a3a3a" >16</text>
<text transform="translate(382.3,724) rotate(-90) scale(0.925,1)" font-size="8.2" text-anchor="start" fill="#3a3a3a" >GRN</text>
<text transform="translate(387.8,749) rotate(-90) scale(0.925,1)" font-size="8.2" text-anchor="end" fill="#3a3a3a" >KNOCK 2 HI</text>
<text transform="translate(395.08,739) rotate(-90) scale(0.92,1)" font-size="8.4" text-anchor="start" fill="#3a3a3a" >17</text>
<text transform="translate(395.08,724) rotate(-90) scale(0.925,1)" font-size="8.2" text-anchor="start" fill="#3a3a3a" >GRN</text>
<text transform="translate(400.58,749) rotate(-90) scale(0.925,1)" font-size="8.2" text-anchor="end" fill="#3a3a3a" >KNOCK 1 HI</text>
<text transform="translate(407.86,739) rotate(-90) scale(0.92,1)" font-size="8.4" text-anchor="start" fill="#3a3a3a" >18</text>
<text transform="translate(407.86,724) rotate(-90) scale(0.925,1)" font-size="8.2" text-anchor="start" fill="#3a3a3a" >WHT</text>
<text transform="translate(413.36,749) rotate(-90) scale(0.925,1)" font-size="8.2" text-anchor="end" fill="#3a3a3a" >CKP HI</text>
<text transform="translate(420.64,739) rotate(-90) scale(0.92,1)" font-size="8.4" text-anchor="start" fill="#3a3a3a" >19</text>
<text transform="translate(420.64,724) rotate(-90) scale(0.925,1)" font-size="8.2" text-anchor="start" fill="#3a3a3a" >BLK</text>
<text transform="translate(426.14,749) rotate(-90) scale(0.925,1)" font-size="8.2" text-anchor="end" fill="#3a3a3a" >OIL TEMP GND</text>
<text transform="translate(433.42,739) rotate(-90) scale(0.92,1)" font-size="8.4" text-anchor="start" fill="#3a3a3a" >20</text>
<text transform="translate(433.42,724) rotate(-90) scale(0.925,1)" font-size="8.2" text-anchor="start" fill="#3a3a3a" >GRN</text>
<text transform="translate(438.92,749) rotate(-90) scale(0.925,1)" font-size="8.2" text-anchor="end" fill="#3a3a3a" >VCM POSITION</text>
<text transform="translate(446.2,739) rotate(-90) scale(0.92,1)" font-size="8.4" text-anchor="start" fill="#3a3a3a" >21</text>
<text transform="translate(446.2,724) rotate(-90) scale(0.925,1)" font-size="8.2" text-anchor="start" fill="#3a3a3a" >GRY</text>
<text transform="translate(451.7,749) rotate(-90) scale(0.925,1)" font-size="8.2" text-anchor="end" fill="#3a3a3a" >CMP 2 SIG</text>
<text transform="translate(458.98,739) rotate(-90) scale(0.92,1)" font-size="8.4" text-anchor="start" fill="#3a3a3a" >22</text>
<text transform="translate(458.98,724) rotate(-90) scale(0.925,1)" font-size="8.2" text-anchor="start" fill="#3a3a3a" >BLU</text>
<text transform="translate(464.48,749) rotate(-90) scale(0.925,1)" font-size="8.2" text-anchor="end" fill="#3a3a3a" >WIPER P INPUT</text>
<text transform="translate(471.76,739) rotate(-90) scale(0.92,1)" font-size="8.4" text-anchor="start" fill="#3a3a3a" >23</text>
<text transform="translate(484.54,739) rotate(-90) scale(0.92,1)" font-size="8.4" text-anchor="start" fill="#3a3a3a" >24</text>
<text transform="translate(484.54,724) rotate(-90) scale(0.925,1)" font-size="8.2" text-anchor="start" fill="#3a3a3a" >WHT</text>
<text transform="translate(490.04,749) rotate(-90) scale(0.925,1)" font-size="8.2" text-anchor="end" fill="#3a3a3a" >IGNITION 1</text>
<text transform="translate(497.32,739) rotate(-90) scale(0.92,1)" font-size="8.4" text-anchor="start" fill="#3a3a3a" >25</text>
<text transform="translate(510.1,739) rotate(-90) scale(0.92,1)" font-size="8.4" text-anchor="start" fill="#3a3a3a" >26</text>
<text transform="translate(510.1,724) rotate(-90) scale(0.925,1)" font-size="8.2" text-anchor="start" fill="#3a3a3a" >BRN</text>
<text transform="translate(515.6,749) rotate(-90) scale(0.925,1)" font-size="8.2" text-anchor="end" fill="#3a3a3a" >EC VFS</text>
<text transform="translate(522.88,739) rotate(-90) scale(0.92,1)" font-size="8.4" text-anchor="start" fill="#3a3a3a" >27</text>
<text transform="translate(522.88,724) rotate(-90) scale(0.925,1)" font-size="8.2" text-anchor="start" fill="#3a3a3a" >GRN</text>
<text transform="translate(528.38,749) rotate(-90) scale(0.925,1)" font-size="8.2" text-anchor="end" fill="#3a3a3a" >35R VFS</text>
<text transform="translate(535.66,739) rotate(-90) scale(0.92,1)" font-size="8.4" text-anchor="start" fill="#3a3a3a" >28</text>
<text transform="translate(535.66,724) rotate(-90) scale(0.925,1)" font-size="8.2" text-anchor="start" fill="#3a3a3a" >BLU</text>
<text transform="translate(541.16,749) rotate(-90) scale(0.925,1)" font-size="8.2" text-anchor="end" fill="#3a3a3a" >SS A</text>
<text transform="translate(548.44,739) rotate(-90) scale(0.92,1)" font-size="8.4" text-anchor="start" fill="#3a3a3a" >29</text>
<text transform="translate(548.44,724) rotate(-90) scale(0.925,1)" font-size="8.2" text-anchor="start" fill="#3a3a3a" >BLU</text>
<text transform="translate(553.94,749) rotate(-90) scale(0.925,1)" font-size="8.2" text-anchor="end" fill="#3a3a3a" >INPUT SUPPLY</text>
<text transform="translate(561.22,739) rotate(-90) scale(0.92,1)" font-size="8.4" text-anchor="start" fill="#3a3a3a" >30</text>
<text transform="translate(574.0,739) rotate(-90) scale(0.92,1)" font-size="8.4" text-anchor="start" fill="#3a3a3a" >31</text>
<text transform="translate(574.0,724) rotate(-90) scale(0.925,1)" font-size="8.2" text-anchor="start" fill="#3a3a3a" >BRN</text>
<text transform="translate(579.5,749) rotate(-90) scale(0.925,1)" font-size="8.2" text-anchor="end" fill="#3a3a3a" >TPS GND</text>
<text transform="translate(586.78,739) rotate(-90) scale(0.92,1)" font-size="8.4" text-anchor="start" fill="#3a3a3a" >32</text>
<text transform="translate(586.78,724) rotate(-90) scale(0.925,1)" font-size="8.2" text-anchor="start" fill="#3a3a3a" >BLK</text>
<text transform="translate(592.28,749) rotate(-90) scale(0.925,1)" font-size="8.2" text-anchor="end" fill="#3a3a3a" >CMP 1 GND</text>
<text transform="translate(599.56,739) rotate(-90) scale(0.92,1)" font-size="8.4" text-anchor="start" fill="#3a3a3a" >33</text>
<text transform="translate(599.56,724) rotate(-90) scale(0.925,1)" font-size="8.2" text-anchor="start" fill="#3a3a3a" >BRN</text>
<text transform="translate(605.06,749) rotate(-90) scale(0.925,1)" font-size="8.2" text-anchor="end" fill="#3a3a3a" >O2 4 LO</text>
<text transform="translate(612.34,739) rotate(-90) scale(0.92,1)" font-size="8.4" text-anchor="start" fill="#3a3a3a" >34</text>
<text transform="translate(612.34,724) rotate(-90) scale(0.925,1)" font-size="8.2" text-anchor="start" fill="#3a3a3a" >WHT</text>
<text transform="translate(617.84,749) rotate(-90) scale(0.925,1)" font-size="8.2" text-anchor="end" fill="#3a3a3a" >TPS 2 SIG</text>
<text transform="translate(625.12,739) rotate(-90) scale(0.92,1)" font-size="8.4" text-anchor="start" fill="#3a3a3a" >35</text>
<text transform="translate(625.12,724) rotate(-90) scale(0.925,1)" font-size="8.2" text-anchor="start" fill="#3a3a3a" >GRY</text>
<text transform="translate(630.62,749) rotate(-90) scale(0.925,1)" font-size="8.2" text-anchor="end" fill="#3a3a3a" >WTS SIG</text>
<text transform="translate(637.9,739) rotate(-90) scale(0.92,1)" font-size="8.4" text-anchor="start" fill="#3a3a3a" >36</text>
<text transform="translate(650.68,739) rotate(-90) scale(0.92,1)" font-size="8.4" text-anchor="start" fill="#3a3a3a" >37</text>
<text transform="translate(663.46,739) rotate(-90) scale(0.92,1)" font-size="8.4" text-anchor="start" fill="#3a3a3a" >38</text>
<text transform="translate(663.46,724) rotate(-90) scale(0.925,1)" font-size="8.2" text-anchor="start" fill="#3a3a3a" >GRY</text>
<text transform="translate(668.96,749) rotate(-90) scale(0.925,1)" font-size="8.2" text-anchor="end" fill="#3a3a3a" >O2 1 HI</text>
<text transform="translate(676.24,739) rotate(-90) scale(0.92,1)" font-size="8.4" text-anchor="start" fill="#3a3a3a" >39</text>
<text transform="translate(676.24,724) rotate(-90) scale(0.925,1)" font-size="8.2" text-anchor="start" fill="#3a3a3a" >GRN</text>
<text transform="translate(681.74,749) rotate(-90) scale(0.925,1)" font-size="8.2" text-anchor="end" fill="#3a3a3a" >O2 1 LO</text>
<text transform="translate(689.02,739) rotate(-90) scale(0.92,1)" font-size="8.4" text-anchor="start" fill="#3a3a3a" >40</text>
<text transform="translate(689.02,724) rotate(-90) scale(0.925,1)" font-size="8.2" text-anchor="start" fill="#3a3a3a" >BLK</text>
<text transform="translate(694.52,749) rotate(-90) scale(0.925,1)" font-size="8.2" text-anchor="end" fill="#3a3a3a" >SHIELD GND</text>
<text transform="translate(701.8,739) rotate(-90) scale(0.92,1)" font-size="8.4" text-anchor="start" fill="#3a3a3a" >41</text>
<text transform="translate(701.8,724) rotate(-90) scale(0.925,1)" font-size="8.2" text-anchor="start" fill="#3a3a3a" >WHT</text>
<text transform="translate(707.3,749) rotate(-90) scale(0.925,1)" font-size="8.2" text-anchor="end" fill="#3a3a3a" >KNOCK 2 LO</text>
<text transform="translate(714.58,739) rotate(-90) scale(0.92,1)" font-size="8.4" text-anchor="start" fill="#3a3a3a" >42</text>
<text transform="translate(714.58,724) rotate(-90) scale(0.925,1)" font-size="8.2" text-anchor="start" fill="#3a3a3a" >WHT</text>
<text transform="translate(720.08,749) rotate(-90) scale(0.925,1)" font-size="8.2" text-anchor="end" fill="#3a3a3a" >KNOCK 1 LO</text>
<text transform="translate(727.36,739) rotate(-90) scale(0.92,1)" font-size="8.4" text-anchor="start" fill="#3a3a3a" >43</text>
<text transform="translate(727.36,724) rotate(-90) scale(0.925,1)" font-size="8.2" text-anchor="start" fill="#3a3a3a" >GRN</text>
<text transform="translate(732.86,749) rotate(-90) scale(0.925,1)" font-size="8.2" text-anchor="end" fill="#3a3a3a" >CKP LO</text>
<text transform="translate(740.14,739) rotate(-90) scale(0.92,1)" font-size="8.4" text-anchor="start" fill="#3a3a3a" >44</text>
<text transform="translate(740.14,724) rotate(-90) scale(0.925,1)" font-size="8.2" text-anchor="start" fill="#3a3a3a" >BRN</text>
<text transform="translate(745.64,749) rotate(-90) scale(0.925,1)" font-size="8.2" text-anchor="end" fill="#3a3a3a" >CMP 2 GND</text>
<text transform="translate(752.92,739) rotate(-90) scale(0.92,1)" font-size="8.4" text-anchor="start" fill="#3a3a3a" >45</text>
<text transform="translate(765.7,739) rotate(-90) scale(0.92,1)" font-size="8.4" text-anchor="start" fill="#3a3a3a" >46</text>
<text transform="translate(765.7,724) rotate(-90) scale(0.925,1)" font-size="8.2" text-anchor="start" fill="#3a3a3a" >GRN</text>
<text transform="translate(771.2,749) rotate(-90) scale(0.925,1)" font-size="8.2" text-anchor="end" fill="#3a3a3a" >CMP 2 SIG</text>
<text transform="translate(280.8,681) rotate(-90) scale(0.925,1)" font-size="8.2" text-anchor="start" fill="#3a3a3a" >STARTING/</text>
<text transform="translate(290.5,681) rotate(-90) scale(0.925,1)" font-size="8.2" text-anchor="start" fill="#3a3a3a" >CHARGING SYSTEM</text>
<text transform="translate(319.2,681) rotate(-90) scale(0.925,1)" font-size="8.2" text-anchor="start" fill="#3a3a3a" >AIR CONDITIONING/</text>
<text transform="translate(329.2,681) rotate(-90) scale(0.925,1)" font-size="8.2" text-anchor="start" fill="#3a3a3a" >HEATER SYSTEM</text>
<text transform="translate(460.3,681) rotate(-90) scale(0.925,1)" font-size="8.2" text-anchor="start" fill="#3a3a3a" >WIPER/WASHER</text>
<text transform="translate(469.2,681) rotate(-90) scale(0.925,1)" font-size="8.2" text-anchor="start" fill="#3a3a3a" >SYSTEM</text>
<text transform="translate(178.5,752.5) scale(0.925,1)" font-size="8.2" text-anchor="end" fill="#3a3a3a" >PCM</text>
<text transform="translate(178.5,762.1) scale(0.925,1)" font-size="8.2" text-anchor="end" fill="#3a3a3a" >(LEFT</text>
<text transform="translate(178.5,771.7) scale(0.925,1)" font-size="8.2" text-anchor="end" fill="#3a3a3a" >REAR</text>
<text transform="translate(178.5,781.3) scale(0.925,1)" font-size="8.2" text-anchor="end" fill="#3a3a3a" >CORNER</text>
<text transform="translate(178.5,790.9) scale(0.925,1)" font-size="8.2" text-anchor="end" fill="#3a3a3a" >OF ENGINE</text>
<text transform="translate(180,800.5) scale(0.925,1)" font-size="8.2" text-anchor="end" fill="#3a3a3a" >COMPT)</text>
<text transform="translate(778.5,739) rotate(-90) scale(0.925,1)" font-size="8.2" text-anchor="start" fill="#3a3a3a" >CLG-B</text>
<text transform="translate(19.5,825) scale(0.92,1)" font-size="8.4" text-anchor="start" fill="#3a3a3a" >353311</text>
<text transform="translate(75.58,727) rotate(-90) scale(0.92,1)" font-size="8.4" text-anchor="start" fill="#3a3a3a" >2</text>
<text transform="translate(75.58,713.5) rotate(-90) scale(0.925,1)" font-size="8.2" text-anchor="start" fill="#3a3a3a" >BLK</text>
<text transform="translate(113.92,727) rotate(-90) scale(0.92,1)" font-size="8.4" text-anchor="start" fill="#3a3a3a" >1</text>
<text transform="translate(113.92,713.5) rotate(-90) scale(0.925,1)" font-size="8.2" text-anchor="start" fill="#3a3a3a" >WHT</text>
<text transform="translate(96,784.3) scale(0.925,1)" font-size="8.2" text-anchor="middle" fill="#3a3a3a" >OIL</text>
<text transform="translate(96,794.0) scale(0.925,1)" font-size="8.2" text-anchor="middle" fill="#3a3a3a" >TEMPERATURE</text>
<text transform="translate(96,803.6999999999999) scale(0.925,1)" font-size="8.2" text-anchor="middle" fill="#3a3a3a" >SENSOR</text>
<text transform="translate(96,813.4) scale(0.925,1)" font-size="8.2" text-anchor="middle" fill="#3a3a3a" >(REAR OF</text>
<text transform="translate(96,823.0999999999999) scale(0.925,1)" font-size="8.2" text-anchor="middle" fill="#3a3a3a" >ENGINE)</text>
<text transform="translate(814.82,701) rotate(-90) scale(0.92,1)" font-size="8.4" text-anchor="start" fill="#3a3a3a" >3</text>
<text transform="translate(815.82,688) rotate(-90) scale(0.925,1)" font-size="8.2" text-anchor="start" fill="#3a3a3a" >GRN</text>
<text transform="translate(815.82,730) rotate(-90) scale(0.925,1)" font-size="8.2" text-anchor="start" fill="#3a3a3a" >NCA</text>
<text transform="translate(827.6,701) rotate(-90) scale(0.92,1)" font-size="8.4" text-anchor="start" fill="#3a3a3a" >1</text>
<text transform="translate(828.6,688) rotate(-90) scale(0.925,1)" font-size="8.2" text-anchor="start" fill="#3a3a3a" >ORG</text>
<text transform="translate(828.6,730) rotate(-90) scale(0.925,1)" font-size="8.2" text-anchor="start" fill="#3a3a3a" >NCA</text>
<text transform="translate(853.16,701) rotate(-90) scale(0.92,1)" font-size="8.4" text-anchor="start" fill="#3a3a3a" >2</text>
<text transform="translate(854.16,688) rotate(-90) scale(0.925,1)" font-size="8.2" text-anchor="start" fill="#3a3a3a" >BRN</text>
<text transform="translate(854.16,730) rotate(-90) scale(0.925,1)" font-size="8.2" text-anchor="start" fill="#3a3a3a" >NCA</text>
<text transform="translate(827.6,650) rotate(-90) scale(0.925,1)" font-size="8.2" text-anchor="start" fill="#3a3a3a" >PNK</text>
<text transform="translate(853.16,650) rotate(-90) scale(0.925,1)" font-size="8.2" text-anchor="start" fill="#3a3a3a" >BLK</text>
<text transform="translate(837.5,785.7) scale(0.925,1)" font-size="8.2" text-anchor="middle" fill="#3a3a3a" >CAMSHAFT POSITION</text>
<text transform="translate(837.5,795.25) scale(0.925,1)" font-size="8.2" text-anchor="middle" fill="#3a3a3a" >SENSOR 2</text>
<text transform="translate(837.5,804.8000000000001) scale(0.925,1)" font-size="8.2" text-anchor="middle" fill="#3a3a3a" >(EXHAUST)</text>
<text transform="translate(837.5,814.35) scale(0.925,1)" font-size="8.2" text-anchor="middle" fill="#3a3a3a" >(LEFT REAR OF</text>
<text transform="translate(837.5,823.9000000000001) scale(0.925,1)" font-size="8.2" text-anchor="middle" fill="#3a3a3a" >LEFT CYLINDER BANK)</text>
</g>
</svg>
</body></html>
